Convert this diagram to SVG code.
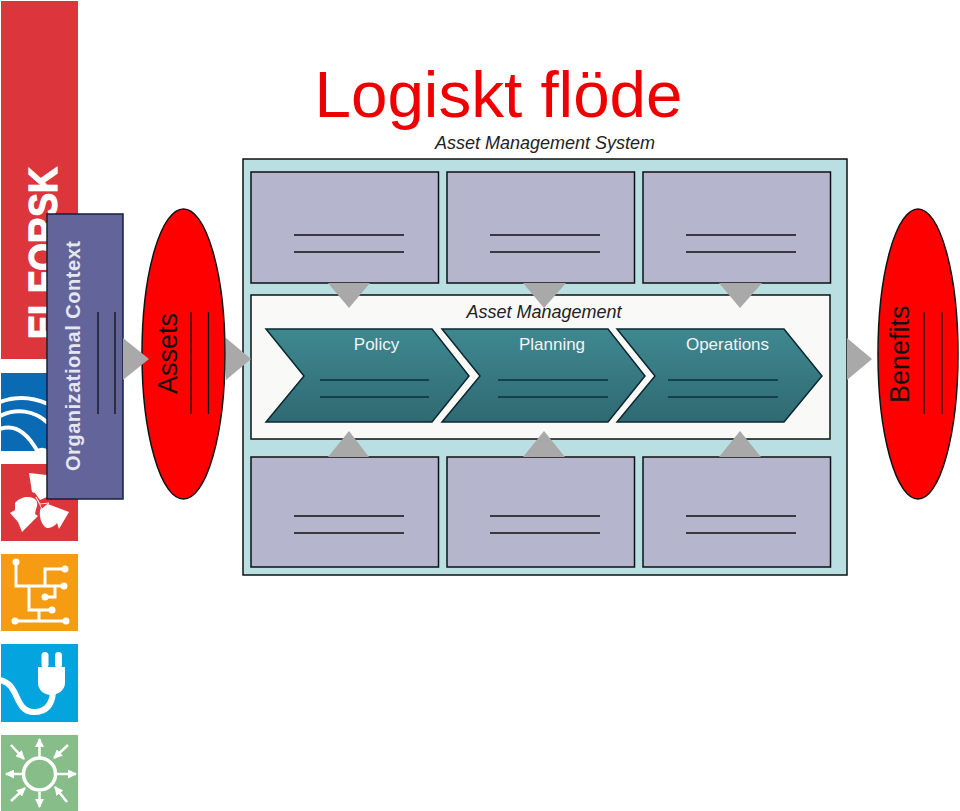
<svg xmlns="http://www.w3.org/2000/svg" width="960" height="811" viewBox="0 0 960 811">
<defs>
<linearGradient id="chev" x1="0" y1="0" x2="0" y2="1"><stop offset="0" stop-color="#3f8890"/><stop offset="1" stop-color="#2f6a72"/></linearGradient>
<clipPath id="blueclip"><rect x="1" y="373" width="77" height="78"/></clipPath>
<clipPath id="plugclip"><rect x="1" y="644" width="77" height="78"/></clipPath>
<marker id="ah" markerWidth="9" markerHeight="9" refX="8" refY="4.500" orient="auto" markerUnits="userSpaceOnUse"><path d="M0 0L9 4.500L0 9Z" fill="#fff"/></marker>
</defs>
<style>
.sans{font-family:"Liberation Sans",Arial,sans-serif}
.card{fill:#b5b5cd;stroke:#111;stroke-width:1.5}
.ln{stroke:#111;stroke-width:1.3;fill:none}
.dk{stroke:#0c2f3a;stroke-width:1.6;fill:none}
.tri{fill:#a9a9a9}
.chev{fill:url(#chev);stroke:#0b2730;stroke-width:1.5}
.arc{stroke:#fff;fill:none;stroke-width:4}
.circ{stroke:#fff;stroke-width:3;fill:none}
.arr{stroke:#fff;stroke-width:2.5;fill:none}
.wf{fill:#fff}
.ct{font-size:17px;fill:#f0f5f5;text-anchor:middle}
.it{font-size:18px;font-style:italic;fill:#222;text-anchor:middle}
.big{font-size:27px;fill:#111}
</style>

<g id="logo">
<rect x="1" y="1" width="77" height="358" fill="#dc353b"/>
<text class="sans wf" transform="translate(57 339) rotate(-90)" font-size="40" font-weight="bold" stroke="#fff" stroke-width="1.2" textLength="172" lengthAdjust="spacingAndGlyphs">ELFORSK</text>
<rect x="1" y="373" width="77" height="78" fill="#0a6ab4"/>
<g clip-path="url(#blueclip)">
<path class="arc" d="M0 402C16 396 32 397 48 404"/>
<path class="arc" d="M0 416C16 408 34 410 48 423"/>
<path class="arc" d="M0 429C16 423 28 434 38 452"/>
<path class="arc" d="M36 452C40 449 44 449 48 452"/>
</g>
<rect x="1" y="464" width="77" height="77" fill="#dc353b"/>
<path class="wf" d="M29 473L47 475V497L40 500L35 493L32 492Z"/>
<path class="wf" d="M10 513L15 510L15 503C20 497 28 496 33 498C38 500 38 505 36 509L35 514L38 516L22 532L18 522Z"/>
<path class="wf" d="M40 511C41 506 43 504 45 503L69 512L59 529L57 523C54 527 50 528 47 528C42 526 39 518 40 511Z"/>
<path d="M36 497L40 504L49 503L42 509Z" fill="#dc353b" stroke="#fff" stroke-width="0.800"/>
<rect x="1" y="554" width="77" height="77" fill="#f59c12"/>
<path class="circ" d="M16 562V586H63M45 586V569H65M29 586V610H52M45 597H55V587M15 621H66M39 610V621"/>
<g class="wf"><circle cx="16" cy="562" r="3.500"/><circle cx="65" cy="569" r="3.500"/><circle cx="64" cy="586" r="3.500"/><circle cx="45" cy="597" r="3.500"/><circle cx="52" cy="610" r="3.500"/><circle cx="15" cy="621" r="3.500"/><circle cx="66" cy="621" r="3.500"/></g>
<rect x="1" y="644" width="77" height="78" fill="#04a5de"/>
<g clip-path="url(#plugclip)">
<path d="M0 680C20 684 14 712 34 712C45 712 52 706 53 692" style="stroke:#fff;stroke-width:6;fill:none"/>
<path class="wf" d="M38 667H65V683C65 690 58 695 51 695C44 695 38 690 38 683Z"/>
<rect class="wf" x="41.500" y="652" width="7" height="16" rx="3.500"/><rect class="wf" x="55" y="652" width="7" height="16" rx="3.500"/>
</g>
<rect x="1" y="735" width="77" height="76" fill="#87bd88"/>
<circle cx="39.500" cy="774" r="16" style="stroke:#fff;stroke-width:3.500;fill:none"/>
<g class="arr">
<path d="M39.500 757V739" marker-end="url(#ah)"/><path d="M39.500 792V807" marker-end="url(#ah)"/>
<path d="M22 774H6" marker-end="url(#ah)"/><path d="M57 774H76" marker-end="url(#ah)"/>
<path d="M11 745L24 759" marker-end="url(#ah)"/><path d="M68 745L54 758" marker-end="url(#ah)"/>
<path d="M11 801L25 788" marker-end="url(#ah)"/><path d="M67 802L55 787" marker-end="url(#ah)"/>
</g>
</g>

<g id="title"><text class="sans" x="498.500" y="117" font-size="64" fill="#ee0000" text-anchor="middle" textLength="368" lengthAdjust="spacingAndGlyphs">Logiskt flöde</text></g>
<g id="system-label"><text class="sans it" x="545" y="149">Asset Management System</text></g>

<g id="org-context">
<rect x="47" y="214" width="76" height="285" fill="#63649a" stroke="#14203a" stroke-width="1.500"/>
<text class="sans" transform="translate(80 471) rotate(-90)" font-size="20" font-weight="bold" fill="#e6e6ee" textLength="230">Organizational Context</text>
<path class="ln" d="M98 312V414M115 312V414"/>
</g>

<g id="assets">
<ellipse cx="183.500" cy="354" rx="41.500" ry="145" fill="#ff0000" stroke="#111" stroke-width="1.500"/>
<text class="sans big" transform="translate(177 394) rotate(-90)">Assets</text>
<path class="ln" d="M191 312V414M208.500 312V414"/>
</g>

<g id="benefits">
<ellipse cx="918" cy="354" rx="40" ry="145" fill="#ff0000" stroke="#111" stroke-width="1.500"/>
<text class="sans big" transform="translate(909 403) rotate(-90)">Benefits</text>
<path class="ln" d="M924 312V414M942 312V414"/>
</g>

<g id="system">
<rect x="243" y="159" width="604" height="416" fill="#b9dfe2" stroke="#111" stroke-width="1.500"/>
</g>
<g id="card-t1"><rect class="card" x="251" y="172" width="187.500" height="111"/><path class="ln" d="M294 235H404M294 252H404"/></g>
<g id="card-t2"><rect class="card" x="447" y="172" width="187.500" height="111"/><path class="ln" d="M490 235H600M490 252H600"/></g>
<g id="card-t3"><rect class="card" x="643" y="172" width="187.500" height="111"/><path class="ln" d="M686 235H796M686 252H796"/></g>
<g id="card-b1"><rect class="card" x="251" y="457" width="187.500" height="110"/><path class="ln" d="M294 516H404M294 533H404"/></g>
<g id="card-b2"><rect class="card" x="447" y="457" width="187.500" height="110"/><path class="ln" d="M490 516H600M490 533H600"/></g>
<g id="card-b3"><rect class="card" x="643" y="457" width="187.500" height="110"/><path class="ln" d="M686 516H796M686 533H796"/></g>

<g id="asset-management">
<rect x="251" y="295" width="579" height="144" fill="#f9f9f7" stroke="#111" stroke-width="1.500"/>
<text class="sans it" x="544" y="318">Asset Management</text>
</g>
<g id="policy">
<path class="chev" d="M266 329H432L469 376L432 422H266L304 376Z"/>
<text class="sans ct" x="376.500" y="350">Policy</text>
<path class="dk" d="M320 380H429M320 397H429"/>
</g>
<g id="planning">
<path class="chev" d="M442 329H608L645 376L608 422H442L480 376Z"/>
<text class="sans ct" x="552" y="350">Planning</text>
<path class="dk" d="M498 380H608M498 397H608"/>
</g>
<g id="operations">
<path class="chev" d="M617 329H784L822 376L784 422H617L655 376Z"/>
<text class="sans ct" x="727.500" y="350">Operations</text>
<path class="dk" d="M668 380H778M668 397H778"/>
</g>

<g id="connectors">
<path class="tri" d="M123 338L149 359L123 380Z"/>
<path class="tri" d="M226 338L251 359L226 380Z"/>
<path class="tri" d="M847 338L872 359L847 380Z"/>
<path class="tri" d="M328 283H370L349 308Z"/>
<path class="tri" d="M523 283H566L544 308Z"/>
<path class="tri" d="M719 283H762L740 308Z"/>
<path class="tri" d="M328 457H369L349 431Z"/>
<path class="tri" d="M523 457H565L544 431Z"/>
<path class="tri" d="M719 457H761L740 431Z"/>
</g>
</svg>
